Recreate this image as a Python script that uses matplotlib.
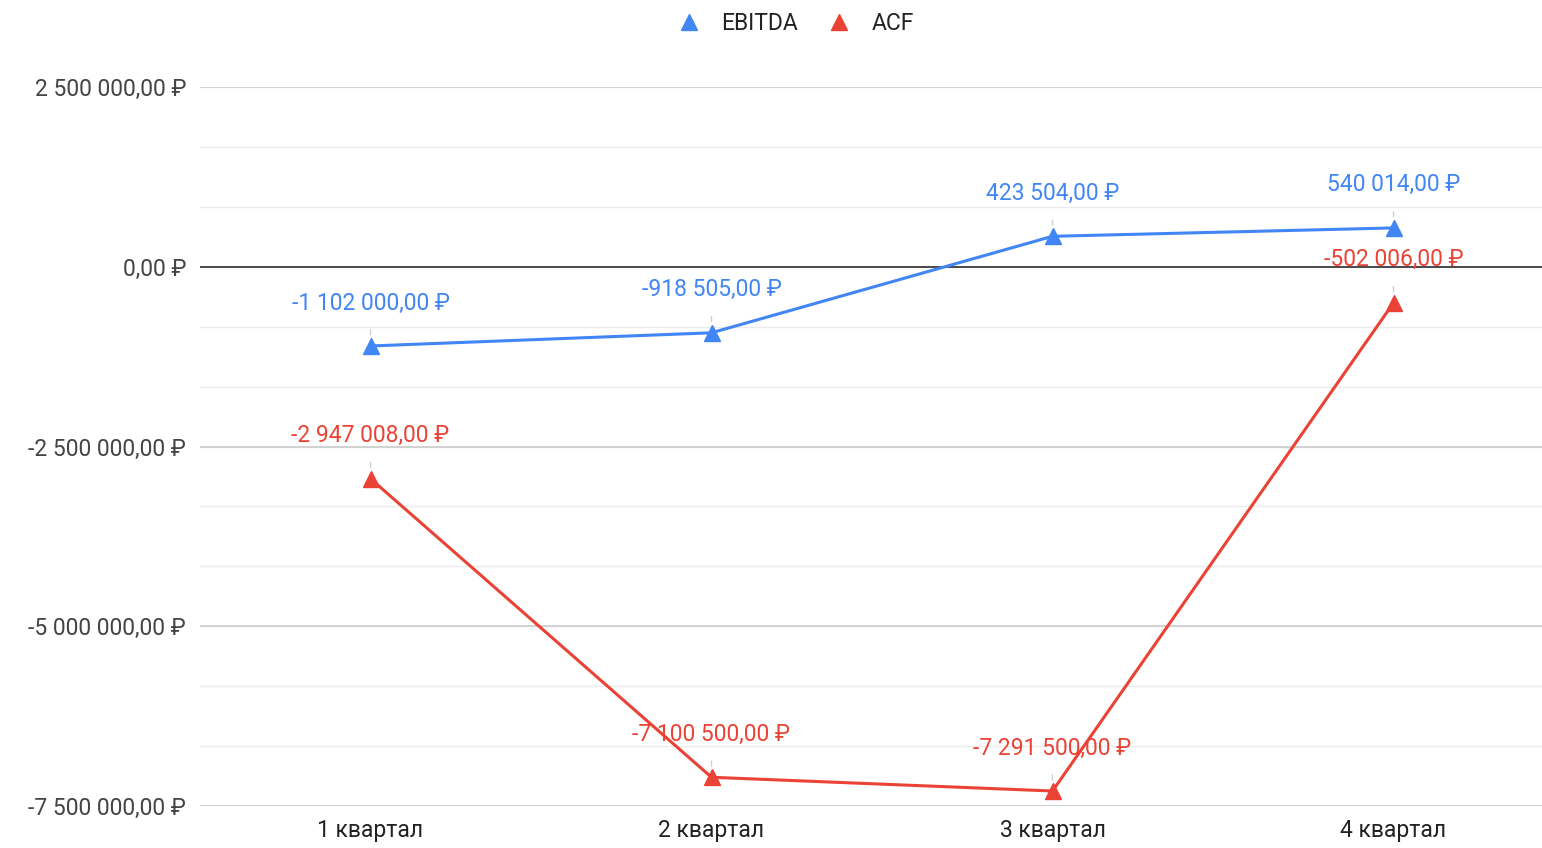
import matplotlib.pyplot as plt
import numpy as np
from matplotlib.lines import Line2D

plt.rcParams['font.family'] = ['Roboto', 'DejaVu Sans']

# данные
quarters = ['1 квартал', '2 квартал', '3 квартал', '4 квартал']
ebitda = [-1102000.00, -918505.00, 423504.00, 540014.00]
acf = [-2947008.00, -7100500.00, -7291500.00, -502006.00]
major_ticks = [2500000, 0, -2500000, -5000000, -7500000]

blue = '#4285F4'
red = '#EA4335'
fs = 16.5


def rub(v):
    s = '{:,.2f}'.format(abs(v)).replace(',', ' ').replace('.', ',')
    return ('-' if v < 0 else '') + s + ' ₽'


fig = plt.figure(figsize=(15.42, 8.48), dpi=100)
ax = fig.add_axes([200 / 1542, 1 - 806 / 848, 1 - 200 / 1542, (806 - 87) / 848])

x = np.arange(len(quarters))

# сетка
minor = np.arange(-7500000, 2500001, 2500000 / 3)
for v in minor:
    ax.axhline(v, color='#ebebeb', lw=1, zorder=0)
for v in major_ticks:
    ax.axhline(v, color='#cccccc', lw=1.2, zorder=0)
ax.axhline(0, color='#333333', lw=1.2, zorder=1)

ax.plot(x, ebitda, color=blue, lw=2.2, marker='^', ms=11, zorder=3)
ax.plot(x, acf, color=red, lw=2.2, marker='^', ms=11, zorder=3)

# подписи значений
for series, col in [(ebitda, blue), (acf, red)]:
    for i, v in enumerate(series):
        ax.annotate(rub(v), xy=(i, v), xytext=(0, 43), textcoords='offset pixels',
                    ha='center', va='center', color=col, fontsize=fs, zorder=4,
                    arrowprops=dict(arrowstyle='-', color='#d0d0d0', lw=1,
                                    shrinkA=9, shrinkB=8))

ax.set_xlim(-0.5, 3.5 - 22 / 341)
ax.set_ylim(-7500000, 2500000)
ax.set_xticks(x)
ax.set_xticklabels(quarters, fontsize=fs, color='#222222')
ax.set_yticks(major_ticks)
ax.set_yticklabels([rub(v) for v in major_ticks], fontsize=fs, color='#444444')
ax.tick_params(length=0, axis='y', pad=10)
ax.tick_params(length=0, axis='x', pad=9)
for s in ax.spines.values():
    s.set_visible(False)

# легенда
handles = [Line2D([], [], ls='none', marker='^', ms=11, color=blue),
           Line2D([], [], ls='none', marker='^', ms=11, color=red)]
fig.legend(handles, ['EBITDA', 'ACF'], loc='center', bbox_to_anchor=(790 / 1542, 1 - 24 / 848),
           ncol=2, frameon=False, fontsize=fs, handletextpad=0.4, columnspacing=0.8,
           labelcolor='#222222')

fig.savefig('out.png', dpi=100)
